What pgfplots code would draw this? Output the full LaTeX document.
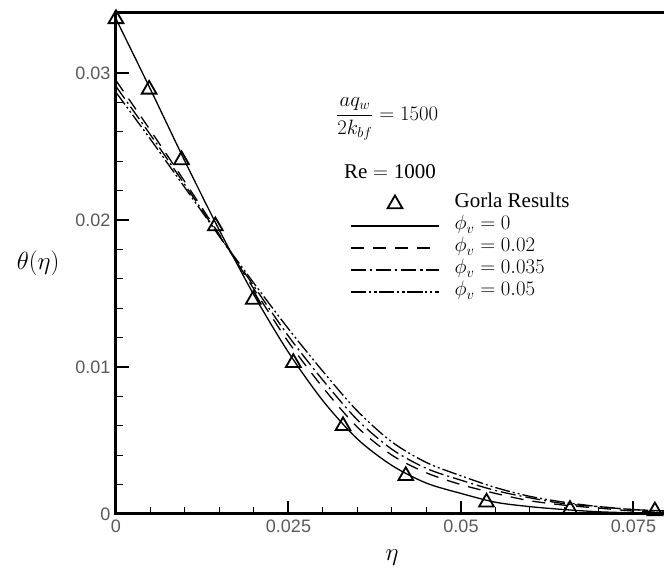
\documentclass[border=0pt]{standalone}
\usepackage{pgfplots}
\pgfplotsset{compat=1.18}
\usepackage{fontspec}
\setmainfont{Liberation Serif}
\newfontfamily\ticksans{Liberation Sans}

\begin{document}
\begin{tikzpicture}
\begin{axis}[
  scale only axis,
  width=552pt, height=501pt,
  xmin=0, xmax=0.08,
  ymin=0, ymax=0.0341,
  clip=false,
  scaled x ticks=false, scaled y ticks=false,
  axis line style={line width=3pt},
  xtick={0,0.025,0.05,0.075},
  xticklabels={0,0.025,0.05,0.075},
  ytick={0,0.01,0.02,0.03},
  yticklabels={0,0.01,0.02,0.03},
  minor x tick num=4,
  minor y tick num=4,
  xtick pos=left, ytick pos=left,
  tick align=inside,
  major tick length=13pt,
  minor tick length=7pt,
  major tick style={line width=2pt, black},
  minor tick style={line width=1pt, black},
  tick label style={font=\fontsize{18}{18}\selectfont\ticksans, text=black!65},
  xticklabel style={yshift=-2pt},
  yticklabel style={xshift=-2pt},
  xlabel={$\eta$},
  xlabel style={font=\fontsize{26}{26}\selectfont, at={(axis description cs:0.5,0)}, anchor=center, yshift=-44pt},
  legend style={at={(axis cs:0.0335,0.0220)}, anchor=north west, draw=none, fill=none,
    font=\fontsize{21}{22}\selectfont, row sep=0pt, column sep=15pt,
    nodes={inner sep=0pt, text height=15pt, text depth=7pt}},
  legend cell align=left,
  legend image code/.code={\draw[mark repeat=2,mark phase=2,#1] plot coordinates {(0pt,0pt) (44pt,0pt) (88pt,0pt)};},
]

% Gorla results
\addplot[black, only marks, mark=triangle, mark size=8.5pt, mark options={line width=1.8pt}]
coordinates {
(0, 0.0337)
(0.0048, 0.0289)
(0.0095, 0.0241)
(0.0144, 0.0196)
(0.0199, 0.0146)
(0.0257, 0.0103)
(0.0329, 0.0060)
(0.0420, 0.0026)
(0.0537, 0.0008)
(0.0658, 0.0003)
(0.0781, 0.0002)
};
\addlegendentry{Gorla Results}

% phi_v = 0
\addplot[black, line width=1.3pt, smooth, no marks]
coordinates {
(0, 0.0337) (0.005, 0.0289) (0.01, 0.0240) (0.015, 0.0193) (0.02, 0.0149)
(0.025, 0.0110) (0.03, 0.0077) (0.035, 0.0051) (0.04, 0.0033) (0.045, 0.0021)
(0.05, 0.0014) (0.055, 0.0008) (0.06, 0.0005) (0.065, 0.0003) (0.07, 0.00015)
(0.075, 0.00008) (0.08, 0.00004)
};
\addlegendentry{$\phi_v=0$}

% phi_v = 0.02
\addplot[black, line width=1.3pt, smooth, no marks, dash pattern=on 13pt off 9pt]
coordinates {
(0, 0.0295) (0.005, 0.0261) (0.01, 0.0226) (0.015, 0.0190) (0.02, 0.0153)
(0.025, 0.0117) (0.03, 0.0086) (0.035, 0.0059) (0.04, 0.0040) (0.045, 0.0028)
(0.05, 0.0020) (0.055, 0.0014) (0.06, 0.0009) (0.065, 0.0006) (0.07, 0.0004)
(0.075, 0.0002) (0.08, 0.0001)
};
\addlegendentry{$\phi_v=0.02$}

% phi_v = 0.035
\addplot[black, line width=1.3pt, smooth, no marks, dash pattern=on 15pt off 4pt on 2pt off 4pt]
coordinates {
(0, 0.0291) (0.005, 0.0258) (0.01, 0.0224) (0.015, 0.0189) (0.02, 0.0155)
(0.025, 0.0121) (0.03, 0.0091) (0.035, 0.0064) (0.04, 0.0044) (0.045, 0.0031)
(0.05, 0.0023) (0.055, 0.0016) (0.06, 0.0011) (0.065, 0.0007) (0.07, 0.0005)
(0.075, 0.0003) (0.08, 0.0002)
};
\addlegendentry{$\phi_v=0.035$}

% phi_v = 0.05
\addplot[black, line width=1.3pt, smooth, no marks, dash pattern=on 15pt off 3pt on 2pt off 3pt on 2pt off 3pt]
coordinates {
(0, 0.0287) (0.005, 0.0255) (0.01, 0.0222) (0.015, 0.0189) (0.02, 0.0157)
(0.025, 0.0126) (0.03, 0.0097) (0.035, 0.0070) (0.04, 0.0049) (0.045, 0.0035)
(0.05, 0.0026) (0.055, 0.0018) (0.06, 0.0012) (0.065, 0.0008) (0.07, 0.0005)
(0.075, 0.0003) (0.08, 0.0002)
};
\addlegendentry{$\phi_v=0.05$}

\node[font=\fontsize{20}{22}\selectfont] at (axis cs:0.0393,0.0269)
  {$\displaystyle\frac{aq_w}{2k_{bf}}=1500$};
\node[font=\fontsize{21}{22}\selectfont] at (axis cs:0.0397,0.0233) {Re${}={}$1000};
\node[font=\fontsize{26}{26}\selectfont] at (axis description cs:-0.141,0.5) {$\theta(\eta)$};

\coordinate (O) at (rel axis cs:0,0);
\end{axis}
\pgfresetboundingbox
\useasboundingbox ([shift={(-116pt,-58pt)}]O) rectangle ++(664pt,572pt);
\end{tikzpicture}
\end{document}
